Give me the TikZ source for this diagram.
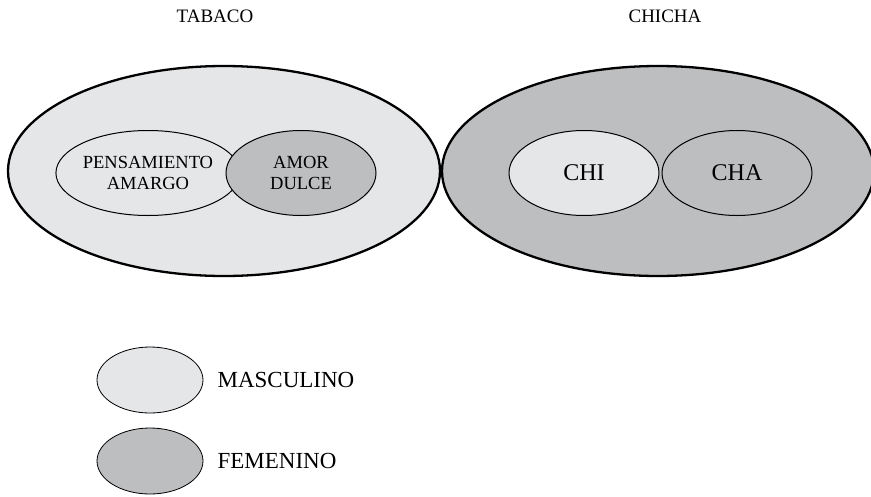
\documentclass[tikz,border=0pt]{standalone}
\usepackage{fontspec}
\setmainfont{Liberation Serif}
\usetikzlibrary{shapes.geometric,positioning}

\definecolor{masc}{RGB}{229,230,232}
\definecolor{fem}{RGB}{189,190,192}

\tikzset{
  bigell/.style={ellipse,draw,line width=2.3pt,minimum width=432pt,minimum height=210pt,inner sep=0pt},
  midell/.style={ellipse,draw,line width=1pt,minimum width=150pt,minimum height=85pt,inner sep=0pt,align=center},
  legell/.style={ellipse,draw,line width=0.8pt,minimum width=106pt,minimum height=66pt,inner sep=0pt},
  title/.style={font=\fontsize{19}{23}\selectfont,inner sep=0pt},
  twoline/.style={font=\fontsize{18.5}{21.7}\selectfont},
  oneline/.style={font=\fontsize{24}{28}\selectfont},
  legtext/.style={font=\fontsize{23}{27}\selectfont,inner sep=0pt,anchor=west}
}

\begin{document}
\begin{tikzpicture}[x=1pt,y=-1pt]
  \clip (0,0) rectangle (871,496);
  \fill[white] (0,0) rectangle (871,496);

  % titulos
  \node[title] (tabacolbl) at (215,16) {TABACO};
  \node[title] (chichalbl) at (665,16) {CHICHA};

  % elipses grandes
  \node[bigell,fill=masc] (tabaco) at (224,171) {};
  \node[bigell,fill=fem] (chicha) at (658,171) {};

  % elipses internas
  \node[midell,twoline,fill=masc] (pensamiento) at (148,173) {PENSAMIENTO\\AMARGO};
  \node[midell,twoline,fill=fem] (amor) at (301,173) {AMOR\\DULCE};
  \node[midell,oneline,fill=masc] (chi) at (584,173) {CHI};
  \node[midell,oneline,fill=fem] (cha) at (737,173) {CHA};

  % leyenda
  \node[legell,fill=masc] (legmasc) at (150,380) {};
  \node[legell,fill=fem] (legfem) at (150,461) {};
  \node[legtext,right=14pt of legmasc] (masclbl) {MASCULINO};
  \node[legtext,right=14pt of legfem] (femlbl) {FEMENINO};
\end{tikzpicture}
\end{document}
